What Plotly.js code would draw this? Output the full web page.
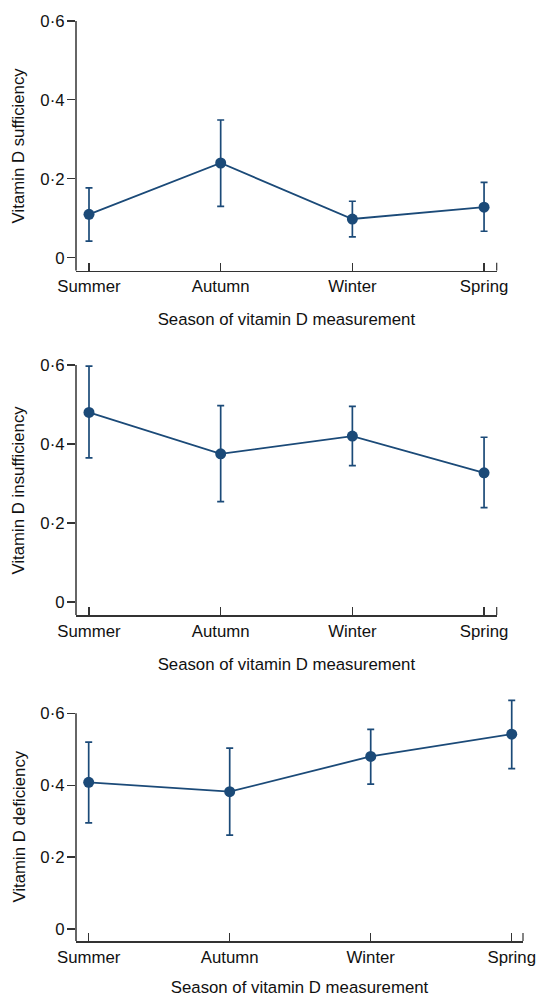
<!DOCTYPE html>
<html>
<head>
<meta charset="utf-8">
<script src="https://cdn.plot.ly/plotly-3.0.1.min.js"></script>
<style>html,body{margin:0;padding:0;background:#fff;}#chart{width:550px;height:997px;}</style>
</head>
<body>
<div id="chart"></div>
<script>
// ---- data ----
const seasons = ["Summer", "Autumn", "Winter", "Spring"];
const yTickVals = [0, 0.2, 0.4, 0.6];
const yTickText = ["0", "0·2", "0·4", "0·6"];
const xTitle = "Season of vitamin D measurement";
const yTitles = ["Vitamin D sufficiency", "Vitamin D insufficiency", "Vitamin D deficiency"];

const sufficiencyMean  = [0.110, 0.240, 0.098, 0.128];
const sufficiencyLower = [0.042, 0.130, 0.053, 0.067];
const sufficiencyUpper = [0.177, 0.349, 0.143, 0.191];

const insufficiencyMean  = [0.480, 0.375, 0.420, 0.327];
const insufficiencyLower = [0.365, 0.254, 0.345, 0.239];
const insufficiencyUpper = [0.597, 0.497, 0.495, 0.417];

const deficiencyMean  = [0.408, 0.382, 0.480, 0.542];
const deficiencyLower = [0.295, 0.261, 0.403, 0.446];
const deficiencyUpper = [0.520, 0.503, 0.555, 0.636];

// ---- styling ----
const W = 550, H = 997;
const col = "#1b4a78";
const axCol = "#333333";
const fontFam = "Helvetica, Arial, 'Liberation Sans', sans-serif";
const fs = 16.8;

const xIdx = seasons.map((s, i) => i);

function series(mean, lo, hi, xa, ya) {
  return {
    type: "scatter", mode: "lines+markers",
    x: xIdx, y: mean, xaxis: xa, yaxis: ya,
    line: {color: col, width: 1.8},
    marker: {color: col, size: 11},
    error_y: {
      type: "data", symmetric: false,
      array: hi.map((h, i) => h - mean[i]),
      arrayminus: lo.map((l, i) => mean[i] - l),
      color: col, thickness: 1.7, width: 3.5
    },
    hoverinfo: "skip", showlegend: false, cliponaxis: false
  };
}

const panels = [
  {xd: [76, 496.7], yd: [21, 270.7], xr: [-0.0987, 3.096], yr: [-0.033, 0.6], yc: 145.9},
  {xd: [76, 496.7], yd: [365, 615], xr: [-0.0987, 3.096], yr: [-0.033, 0.6], yc: 490},
  {xd: [76, 523], yd: [697.1, 941], xr: [-0.09, 3.08], yr: [-0.0334, 0.645], yc: 827}
];

const data = [
  series(sufficiencyMean, sufficiencyLower, sufficiencyUpper, "x", "y"),
  series(insufficiencyMean, insufficiencyLower, insufficiencyUpper, "x2", "y2"),
  series(deficiencyMean, deficiencyLower, deficiencyUpper, "x3", "y3")
];

const layout = {
  width: W, height: H, autosize: false,
  margin: {l: 0, r: 0, t: 0, b: 0, pad: 0},
  paper_bgcolor: "#fff", plot_bgcolor: "#fff",
  font: {family: fontFam, size: fs, color: "#111"},
  showlegend: false,
  shapes: [], annotations: []
};

panels.forEach((p, k) => {
  const sfx = k === 0 ? "" : String(k + 1);
  const xa = "xaxis" + sfx, ya = "yaxis" + sfx;
  const xid = "x" + sfx, yid = "y" + sfx;
  layout[xa] = {
    domain: [p.xd[0] / W, p.xd[1] / W], range: p.xr, anchor: yid,
    showgrid: false, zeroline: false,
    showline: true, linecolor: axCol, linewidth: 1.5,
    ticks: "inside", ticklen: 8, tickwidth: 1.2, tickcolor: axCol,
    tickmode: "array", tickvals: xIdx, ticktext: seasons,
    tickfont: {size: fs, family: fontFam, color: "#111"},
    title: {text: xTitle, font: {size: fs, family: fontFam, color: "#111"}, standoff: 18},
    fixedrange: true
  };
  layout[ya] = {
    domain: [1 - p.yd[1] / H, 1 - p.yd[0] / H], range: p.yr, anchor: xid,
    showgrid: false, zeroline: false, showline: false,
    ticks: "outside", ticklen: 8, tickwidth: 1.2, tickcolor: axCol,
    tickmode: "array", tickvals: yTickVals, ticktext: yTickText,
    tickfont: {size: fs, family: fontFam, color: "#111"},
    ticklabelstandoff: -1,
    fixedrange: true
  };
  const pxPerUnit = (p.yd[1] - p.yd[0]) / (p.yr[1] - p.yr[0]);
  // y axis line from bottom corner up to the top tick
  layout.shapes.push({
    type: "line", xref: xid + " domain", yref: yid,
    x0: 0, x1: 0, y0: p.yr[0], y1: yTickVals[yTickVals.length - 1],
    line: {color: axCol, width: 1.5}
  });
  // end cap tick at right end of x axis
  layout.shapes.push({
    type: "line", xref: xid + " domain", yref: yid,
    x0: 1, x1: 1, y0: p.yr[0], y1: p.yr[0] + 8 / pxPerUnit,
    line: {color: axCol, width: 1.2}
  });
  layout.annotations.push({
    text: yTitles[k], textangle: -90, showarrow: false,
    xref: "paper", yref: "paper", x: 18.5 / W, y: 1 - p.yc / H,
    xanchor: "center", yanchor: "middle",
    font: {size: fs, family: fontFam, color: "#111"}
  });
});

Plotly.newPlot("chart", data, layout, {staticPlot: true, displayModeBar: false});
</script>
</body>
</html>
